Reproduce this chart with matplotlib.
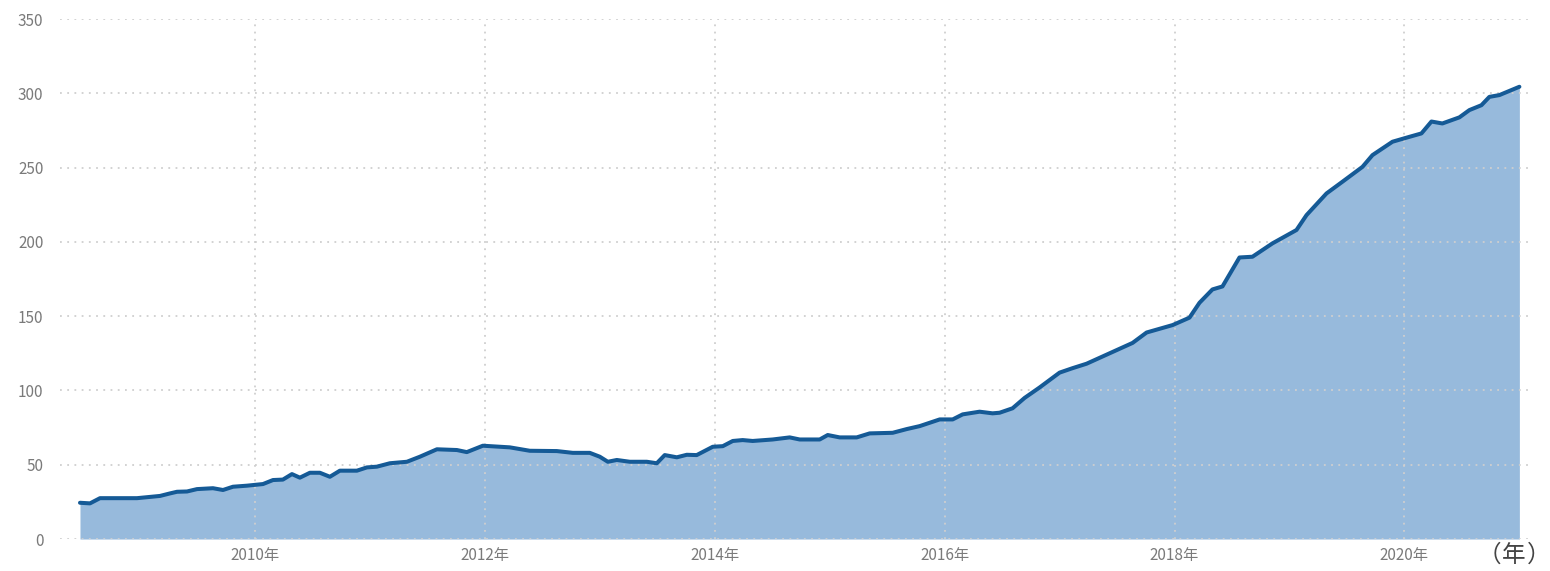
import matplotlib
matplotlib.use("Agg")
import matplotlib.pyplot as plt

plt.rcParams['font.family'] = ['Noto Sans CJK JP', 'DejaVu Sans']

# decimal-year positions and values
years = [2008.478, 2008.565, 2008.652, 2008.974, 2009.174, 2009.261, 2009.322, 2009.409,
         2009.496, 2009.635, 2009.722, 2009.809, 2009.930, 2010.070, 2010.157, 2010.243,
         2010.322, 2010.391, 2010.478, 2010.565, 2010.652, 2010.739, 2010.887, 2010.974,
         2011.061, 2011.174, 2011.322, 2011.435, 2011.583, 2011.757, 2011.843, 2011.983,
         2012.217, 2012.391, 2012.626, 2012.765, 2012.913, 2013.000, 2013.070, 2013.148,
         2013.261, 2013.409, 2013.496, 2013.565, 2013.670, 2013.757, 2013.843, 2013.983,
         2014.070, 2014.157, 2014.243, 2014.330, 2014.504, 2014.652, 2014.739, 2014.913,
         2014.983, 2015.087, 2015.235, 2015.348, 2015.548, 2015.670, 2015.783, 2015.957,
         2016.070, 2016.157, 2016.304, 2016.417, 2016.478, 2016.591, 2016.696, 2016.826,
         2017.000, 2017.113, 2017.235, 2017.435, 2017.635, 2017.757, 2017.983, 2018.130,
         2018.217, 2018.330, 2018.417, 2018.565, 2018.678, 2018.852, 2019.061, 2019.148,
         2019.322, 2019.461, 2019.635, 2019.722, 2019.896, 2020.043, 2020.148, 2020.235,
         2020.330, 2020.478, 2020.565, 2020.670, 2020.739, 2020.826, 2021.000]
values = [24.4, 24.0, 27.5, 27.5, 29.0, 30.7, 31.8, 32.0,
          33.6, 34.2, 33.0, 35.2, 35.9, 37.0, 39.7, 40.0,
          43.7, 41.3, 44.6, 44.6, 41.9, 46.0, 46.0, 48.2,
          48.7, 51.0, 52.0, 55.4, 60.4, 59.9, 58.5, 62.8,
          61.7, 59.4, 59.2, 58.0, 58.0, 55.4, 52.0, 53.2,
          52.0, 52.0, 51.0, 56.5, 55.0, 56.7, 56.5, 62.1,
          62.5, 66.0, 66.6, 66.0, 67.0, 68.4, 67.0, 67.0,
          70.0, 68.4, 68.4, 71.1, 71.5, 74.0, 76.0, 80.5,
          80.5, 83.9, 85.7, 84.6, 85.0, 88.0, 95.0, 102.0,
          112.0, 115.0, 118.0, 125.0, 132.0, 139.0, 144.0, 149.0,
          159.0, 168.0, 170.0, 189.5, 190.0, 199.0, 208.0, 218.0,
          232.6, 240.5, 250.5, 258.4, 267.4, 270.7, 273.0, 281.0,
          279.7, 283.8, 288.7, 292.0, 297.6, 298.8, 304.4]

xticks = [2010, 2012, 2014, 2016, 2018, 2020]
xtick_labels = [f"{y}年" for y in xticks]
yticks = [0, 50, 100, 150, 200, 250, 300, 350]
unit_parts = ['（', '年', '）']

fig = plt.figure(figsize=(15.5, 5.71), dpi=100)
ax = fig.add_axes([0.0387, 0.056, 0.948, 0.9107])

ax.fill_between(years, values, 0, color='#97BADC', linewidth=0, zorder=1)
ax.plot(years, values, color='#155A96', linewidth=2.9, solid_joinstyle='round',
        solid_capstyle='round', zorder=3)

ax.set_xlim(2008.304, 2021.087)
ax.set_ylim(0, 350)
ax.set_xticks(xticks)
ax.set_xticklabels(xtick_labels)
ax.set_yticks(yticks)

ax.grid(True, which='major', axis='both', linestyle=(0, (1, 3)), color='#cfcfcf',
        linewidth=1.3, zorder=2)
ax.set_axisbelow(False)
for gl in ax.get_xgridlines() + ax.get_ygridlines():
    gl.set_zorder(2)

for s in ax.spines.values():
    s.set_visible(False)
ax.tick_params(axis='both', length=0, labelsize=11, colors='#7a7a7a')
ax.tick_params(axis='y', pad=12)
ax.tick_params(axis='x', pad=6)

for part, xpx in zip(unit_parts, [1489, 1514, 1539]):
    fig.text(xpx / 1550, 0.028, part, ha='center', va='center', fontsize=17,
             color='#444444')

fig.savefig('out.png', dpi=100, facecolor='white')
